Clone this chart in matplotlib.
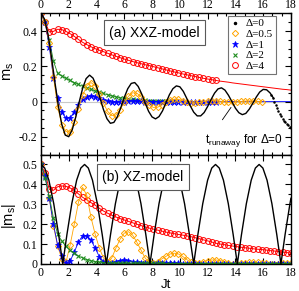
import numpy as np
import matplotlib
matplotlib.use('Agg')
import matplotlib.pyplot as plt
from matplotlib.ticker import MultipleLocator, AutoMinorLocator, FuncFormatter
from matplotlib.lines import Line2D

plt.rcParams['font.family'] = 'Liberation Serif'
plt.rcParams['axes.unicode_minus'] = False
plt.rcParams['mathtext.fontset'] = 'custom'
plt.rcParams['mathtext.rm'] = 'Liberation Sans'
plt.rcParams['mathtext.it'] = 'Liberation Sans:italic'

SANS = 'Liberation Sans'

# sampling grid of the numerical data (Jt)
t_num = np.round(np.arange(0, 18.01, 0.3), 2)

# ---- (a) XXZ-model ----
# exact Delta=0 curve, Jt = 0 .. 16.75 step 0.25
t_exact = np.arange(0, 16.76, 0.25)
ms_xxz_d0 = [0.5, 0.469, 0.383, 0.256, 0.112, -0.024, -0.130, -0.190, -0.199, -0.160,
             -0.089, -0.003, 0.075, 0.130, 0.150, 0.133, 0.086, 0.021, -0.045, -0.097,
             -0.123, -0.118, -0.086, -0.034, 0.024, 0.073, 0.103, 0.108, 0.086, 0.044,
             -0.007, -0.055, -0.087, -0.098, -0.085, -0.053, -0.007, 0.039, 0.073, 0.089,
             0.084, 0.058, 0.018, -0.024, -0.060, -0.081, -0.081, -0.062, -0.028, 0.012,
             0.048, 0.072, 0.078, 0.065, 0.036, 0.000, -0.037, -0.063, -0.074, -0.067,
             -0.043, -0.010, 0.025, 0.054, 0.069, 0.067, 0.049, 0.019]
# numerical Delta=0 after the runaway time
t_run = [16.6, 16.7, 16.8, 16.9, 17.0, 17.1, 17.2, 17.3, 17.4, 17.5, 17.6, 17.7, 17.8, 17.9, 18.0]
ms_run = [0.035, 0.018, 0.0, -0.018, -0.035, -0.052, -0.068, -0.083, -0.096, -0.108,
          -0.118, -0.127, -0.135, -0.143, -0.150]

ms_xxz_d05 = [0.5, 0.45, 0.33, 0.14, -0.03, -0.13, -0.17, -0.172, -0.115, -0.04,
              0.035, 0.09, 0.108, 0.09, 0.045, -0.01, -0.055, -0.08, -0.076, -0.045,
              -0.005, 0.03, 0.05, 0.048, 0.028, 0.0, -0.022, -0.033, -0.032, -0.02,
              -0.004, 0.008, 0.014, 0.013, 0.006, -0.002, -0.007, -0.008, -0.005, 0.0,
              0.004, 0.006, 0.005, 0.002, -0.002, -0.004, -0.004, -0.002, 0.001, 0.003,
              0.004, 0.003, 0.001, -0.001]
ms_xxz_d1 = [0.5, 0.45, 0.31, 0.135, 0.02, -0.06, -0.095, -0.092, -0.058, -0.018,
             0.012, 0.028, 0.033, 0.027, 0.018, 0.008, 0.001, -0.003, -0.004, -0.003,
             -0.001, 0.001, 0.002, 0.002, 0.001, 0.0, -0.001, -0.001, 0.0, 0.0,
             0.0, 0.0, 0.0, 0.0, 0.0, 0.0, 0.0, 0.0, 0.0, 0.0,
             0.0, 0.0, 0.0, 0.0, 0.0, 0.0, 0.0, 0.0, 0.0, 0.0,
             0.0, 0.0, 0.0, 0.0, 0.0, 0.0, 0.0, 0.0, 0.0, 0.0, 0.0]
ms_xxz_d2 = [0.5, 0.45, 0.35, 0.23, 0.16, 0.145, 0.132, 0.12, 0.108, 0.097,
             0.087, 0.078, 0.069, 0.061, 0.053, 0.046, 0.039, 0.033, 0.027, 0.022,
             0.018, 0.015, 0.012, 0.01, 0.008, 0.007, 0.006, 0.005, 0.005, 0.004,
             0.004, 0.003, 0.003]
ms_xxz_d4 = [0.5, 0.45, 0.395, 0.398, 0.41, 0.408, 0.398, 0.385, 0.37, 0.352,
             0.336, 0.323, 0.311, 0.3, 0.291, 0.283, 0.274, 0.265, 0.257, 0.249,
             0.241, 0.234, 0.227, 0.221, 0.215, 0.209, 0.204, 0.198, 0.192, 0.186,
             0.18, 0.174, 0.168, 0.163, 0.157, 0.152, 0.147, 0.142, 0.137, 0.132,
             0.128, 0.124, 0.12, 0.116, 0.113, 0.11, 0.106, 0.103, 0.1, 0.097,
             0.094, 0.091, 0.088, 0.085, 0.082, 0.079, 0.076, 0.073, 0.07, 0.068, 0.065]

# ---- (b) XZ-model ----
t_xz_exact = [0, 0.27, 0.57, 0.92, 1.27, 1.57, 1.87, 2.22, 2.57, 2.87, 3.14, 3.41, 3.71,
              4.06, 4.41, 4.71, 5.01, 5.36, 5.71, 6.01, 6.28, 6.55, 6.85, 7.2, 7.55, 7.85,
              8.15, 8.5, 8.85, 9.15, 9.42, 9.69, 9.99, 10.34, 10.69, 11.0, 11.3, 11.65,
              12.0, 12.3, 12.57, 12.84, 13.14, 13.49, 13.84, 14.14, 14.44, 14.79, 15.14,
              15.44, 15.71, 15.98, 16.28, 16.63, 16.98, 17.28, 17.58, 17.93, 18.0]
ms_xz_d0 = [0.5, 0.482, 0.421, 0.303, 0.148, 0.0,
            0.148, 0.303, 0.421, 0.482, 0.5, 0.482, 0.421, 0.303, 0.148, 0.0,
            0.148, 0.303, 0.421, 0.482, 0.5, 0.482, 0.421, 0.303, 0.148, 0.0,
            0.148, 0.303, 0.421, 0.482, 0.5, 0.482, 0.421, 0.303, 0.148, 0.0,
            0.148, 0.303, 0.421, 0.482, 0.5, 0.482, 0.421, 0.303, 0.148, 0.0,
            0.148, 0.303, 0.421, 0.482, 0.5, 0.482, 0.421, 0.303, 0.148, 0.0,
            0.148, 0.303, 0.33]
ms_xz_d05 = [0.5, 0.445, 0.33, 0.19, 0.09, 0.025, 0.008, 0.095, 0.2, 0.31,
             0.385, 0.345, 0.235, 0.15, 0.08, 0.03, 0.01, 0.03, 0.08, 0.125,
             0.155, 0.162, 0.145, 0.11, 0.07, 0.03, 0.008, 0.005, 0.012, 0.025,
             0.038, 0.05, 0.054, 0.05, 0.038, 0.022, 0.008, 0.003, 0.006, 0.012,
             0.017, 0.02, 0.02, 0.017, 0.012, 0.006, 0.002, 0.002, 0.004, 0.006,
             0.008, 0.008, 0.008, 0.006, 0.004, 0.002, 0.001, 0.002, 0.003, 0.004, 0.004]
ms_xz_d1 = [0.5, 0.44, 0.33, 0.2, 0.095, 0.038, 0.006, 0.014, 0.06, 0.11,
            0.142, 0.14, 0.12, 0.08, 0.037, 0.012, 0.004, 0.006, 0.012, 0.017,
            0.018, 0.016, 0.012, 0.008, 0.005, 0.003, 0.002, 0.002, 0.003, 0.004,
            0.005, 0.005, 0.004, 0.003, 0.002, 0.001, 0.001, 0.001, 0.002, 0.002,
            0.002, 0.002, 0.002, 0.002, 0.002, 0.002, 0.002, 0.002, 0.002, 0.002,
            0.002, 0.002, 0.002, 0.002, 0.002, 0.002, 0.002, 0.002, 0.002, 0.002, 0.002]
ms_xz_d2 = [0.5, 0.43, 0.34, 0.23, 0.15, 0.115, 0.088, 0.068, 0.053, 0.04,
            0.03, 0.022, 0.016, 0.012, 0.009, 0.007, 0.005, 0.004, 0.004, 0.003,
            0.003, 0.003, 0.003, 0.003, 0.003, 0.003, 0.003, 0.003, 0.003, 0.003,
            0.002, 0.002, 0.002, 0.002, 0.002, 0.002, 0.002, 0.002, 0.002, 0.002,
            0.002, 0.002, 0.002, 0.002, 0.002, 0.002, 0.002, 0.002, 0.002, 0.002,
            0.002, 0.002, 0.002, 0.002, 0.002, 0.002, 0.002, 0.002, 0.002, 0.002, 0.002]
ms_xz_d4 = [0.5, 0.455, 0.375, 0.37, 0.388, 0.392, 0.39, 0.382, 0.37, 0.352,
            0.335, 0.322, 0.308, 0.296, 0.28, 0.266, 0.255, 0.245, 0.236, 0.228,
            0.221, 0.214, 0.207, 0.2, 0.193, 0.186, 0.18, 0.175, 0.17, 0.165,
            0.16, 0.156, 0.152, 0.148, 0.145, 0.141, 0.137, 0.132, 0.127, 0.121,
            0.116, 0.11, 0.104, 0.1, 0.097, 0.093, 0.09, 0.087, 0.084, 0.081,
            0.079, 0.076, 0.074, 0.072, 0.07, 0.067, 0.065, 0.062, 0.06, 0.057, 0.055]

legend_labels = ['\u0394=0', '\u0394=0.5', '\u0394=1', '\u0394=2', '\u0394=4']

ORANGE = '#FFA500'
BLUE = '#0000FF'
GREEN = '#1E8C1E'
RED = '#FF0000'

red_kw = dict(marker='o', mfc='none', mec=RED, ms=4.2, mew=0.7)
orange_kw = dict(marker='D', mfc='none', mec=ORANGE, ms=3.2, mew=0.7)
blue_kw = dict(marker='*', mfc=BLUE, mec=BLUE, ms=4.5, mew=0.5)
green_kw = dict(marker='x', mec=GREEN, ms=3.0, mew=0.8)

fig = plt.figure(figsize=(2.99, 2.91), dpi=100)
ax1 = fig.add_axes([0.137, 0.469, 0.836, 0.485])
ax2 = fig.add_axes([0.137, 0.093, 0.836, 0.376])

fmt = FuncFormatter(lambda v, p: '0' if abs(v) < 1e-9 else '%g' % round(v, 3))

def style(ax):
    ax.set_xlim(0, 18)
    ax.xaxis.set_major_locator(MultipleLocator(2))
    ax.xaxis.set_minor_locator(AutoMinorLocator(3))
    ax.yaxis.set_major_formatter(fmt)
    ax.tick_params(which='both', direction='in', top=True, right=True,
                   labelsize=8.5, width=0.8, pad=2.5)
    ax.tick_params(which='major', length=4)
    ax.tick_params(which='minor', length=2.2)
    for s in ax.spines.values():
        s.set_linewidth(1.0)

# top panel
n4 = 43   # red markers up to Jt~12.6
ax1.axhline(0, color='#c8c8c8', lw=0.8, zorder=0)
ax1.plot(t_exact, ms_xxz_d0, color='k', lw=1.0, zorder=3)
ax1.plot(t_run, ms_run, ls='', marker='.', color='k', ms=1.6, zorder=3)
ax1.plot(t_num, ms_xxz_d4, color=RED, lw=0.7, zorder=2)
ax1.plot(t_num[:n4], ms_xxz_d4[:n4], ls='', zorder=2, **red_kw)
ax1.plot(t_num[:len(ms_xxz_d2)], ms_xxz_d2, color=GREEN, lw=0.6, zorder=2, **green_kw)
ax1.plot(t_num, ms_xxz_d1, color=BLUE, lw=0.6, zorder=2)
ax1.plot(t_num[:43], ms_xxz_d1[:43], ls='', zorder=2, **blue_kw)
ax1.plot(t_num[:len(ms_xxz_d05)], ms_xxz_d05, color=ORANGE, lw=0.6, zorder=2, **orange_kw)

style(ax1)
ax1.set_ylim(-0.3, 0.5)
ax1.yaxis.set_major_locator(MultipleLocator(0.2))
ax1.yaxis.set_minor_locator(AutoMinorLocator(4))
ax1.tick_params(axis='x', labeltop=True, labelbottom=False, pad=1.5)
ax1.set_ylabel(r'$\mathrm{m}_\mathrm{s}$', fontsize=10.5)
ax1.yaxis.set_label_coords(-0.1, 0.59)

ax1.text(0.454, 0.862, '(a) XXZ-model', transform=ax1.transAxes, family=SANS,
         fontsize=10, ha='center', va='center',
         bbox=dict(boxstyle='square,pad=0.4', fc='white', ec='0.35', lw=0.8))

handles = [Line2D([], [], ls='', marker='.', color='k', ms=3),
           Line2D([], [], ls='', **orange_kw),
           Line2D([], [], ls='', **blue_kw),
           Line2D([], [], ls='', **green_kw),
           Line2D([], [], ls='', **red_kw)]
leg = ax1.legend(handles, legend_labels, loc='upper right', bbox_to_anchor=(0.94, 0.982),
                 borderaxespad=0, fontsize=8, handlelength=0.8, handletextpad=0.6,
                 labelspacing=0.08, borderpad=0.25, fancybox=False, framealpha=1)
leg.get_frame().set_edgecolor('0.45')
leg.get_frame().set_linewidth(0.8)

ax1.annotate('', xy=(13.8, -0.02), xytext=(12.95, -0.116),
             arrowprops=dict(arrowstyle='-', color='k', lw=0.6))
ax1.text(11.8, -0.235, r'$\mathrm{t}_{\mathrm{runaway}}$' + ' for \u0394=0', family=SANS,
         fontsize=8.5, ha='left', va='baseline')

# bottom panel
ax2.plot(t_xz_exact, ms_xz_d0, color='k', lw=1.0, zorder=3)
ax2.plot(t_num, ms_xz_d4, color=RED, lw=0.7, zorder=2, **red_kw)
ax2.plot(t_num, ms_xz_d05, color=ORANGE, lw=0.6, zorder=2, **orange_kw)
ax2.plot(t_num, ms_xz_d1, color=BLUE, lw=0.6, zorder=2, **blue_kw)
ax2.plot(t_num, ms_xz_d2, color=GREEN, lw=0.6, zorder=2, **green_kw)

style(ax2)
ax2.set_ylim(0, 0.55)
ax2.yaxis.set_major_locator(MultipleLocator(0.1))
ax2.yaxis.set_minor_locator(AutoMinorLocator(2))
ax2.set_ylabel(r'$|\mathrm{m}_\mathrm{s}|$', fontsize=10.5)
ax2.yaxis.set_label_coords(-0.09, 0.44)
ax2.set_xlabel('Jt', family=SANS, fontsize=9.5, labelpad=0)

ax2.text(0.407, 0.795, '(b) XZ-model', transform=ax2.transAxes, family=SANS,
         fontsize=10, ha='center', va='center',
         bbox=dict(boxstyle='square,pad=0.4', fc='white', ec='0.35', lw=0.8))

fig.savefig('out.png', dpi=100)
